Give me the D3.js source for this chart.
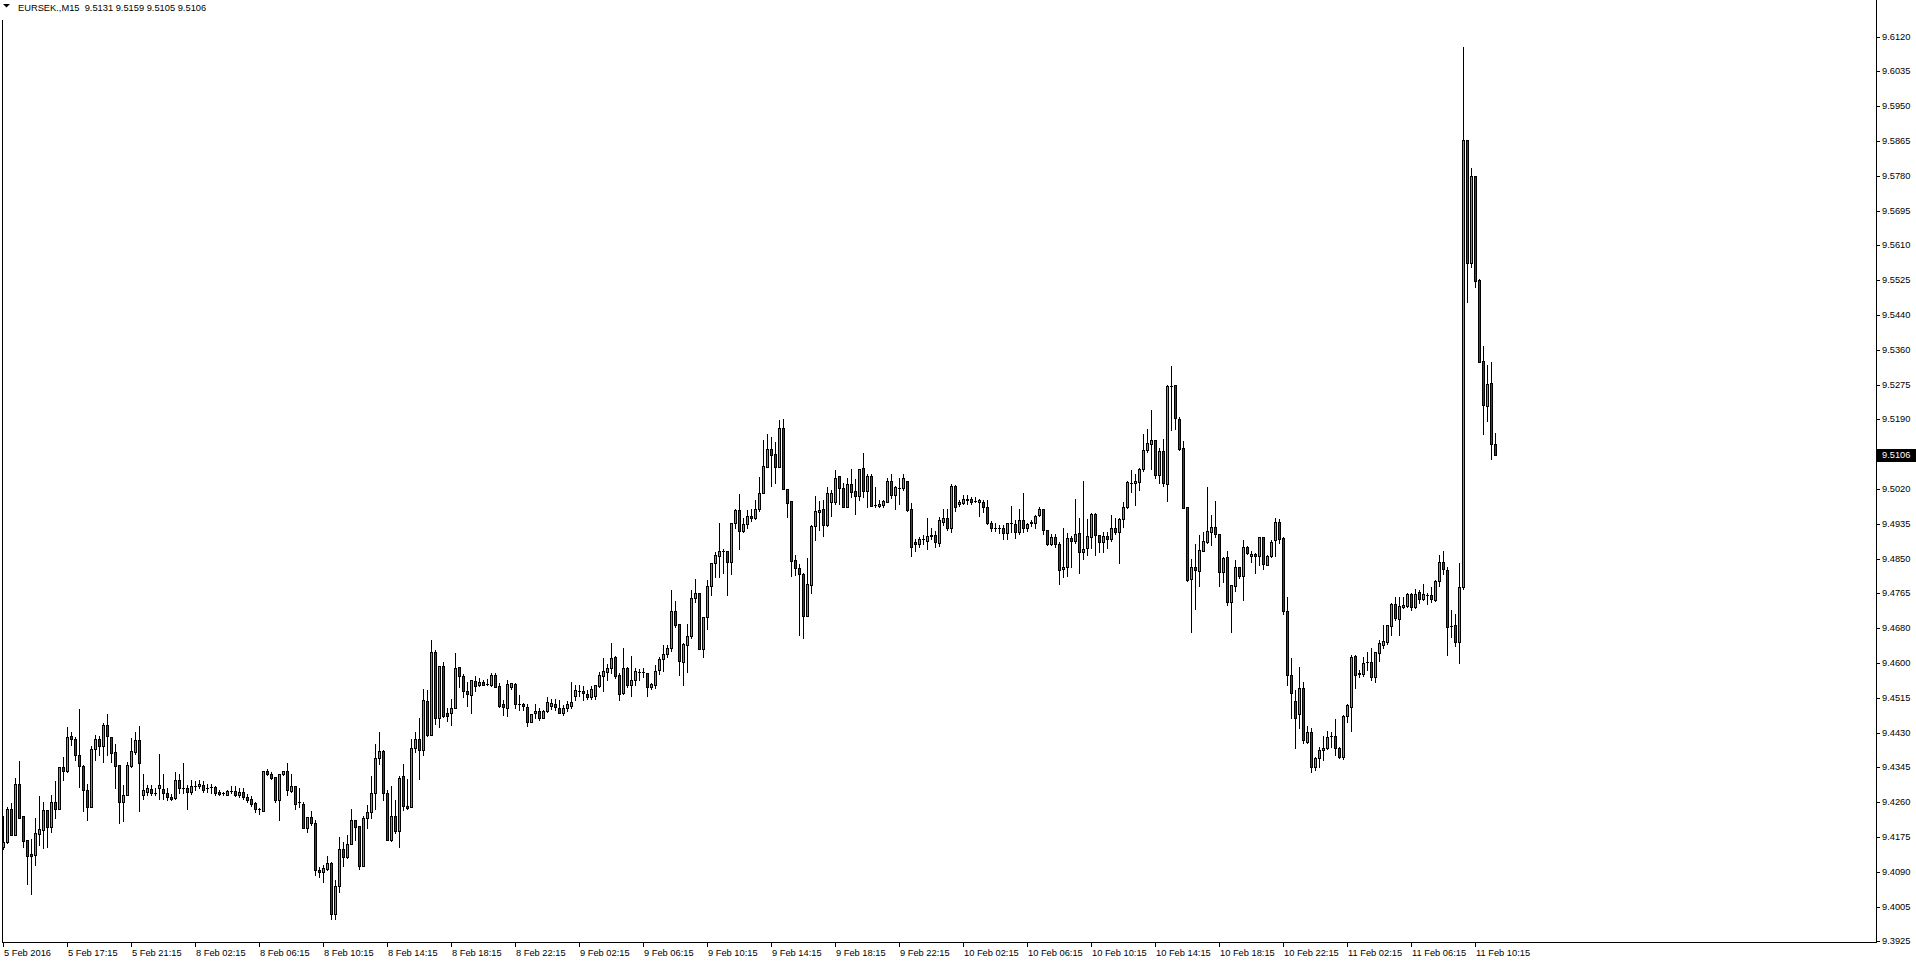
<!DOCTYPE html>
<html><head><meta charset="utf-8">
<script src="https://cdn.jsdelivr.net/npm/d3@7"></script>
<style>html,body{margin:0;padding:0;background:#fff;overflow:hidden}svg{display:block}</style>
</head><body>
<script>
const symbolTitle = "EURSEK.,M15";
const headerValues = ["9.5131", "9.5159", "9.5105", "9.5106"];
const lastPrice = 9.5106;

const openP = [
9.4155,9.4165,9.4246,9.4182,9.4307,9.4229,9.4171,9.4136,9.4135,9.4186,
9.4196,9.4244,9.4203,9.4263,9.4245,9.4348,9.4339,9.4422,9.4416,9.4377,
9.4351,9.4292,9.4252,9.4391,9.4416,9.4398,9.4450,9.4420,9.4384,9.4353,
9.4262,9.4279,9.4351,9.4384,9.4414,9.4279,9.4288,9.4294,9.4286,9.4296,
9.4294,9.4285,9.4275,9.4272,9.4316,9.4296,9.4296,9.4288,9.4303,9.4301,
9.4305,9.4297,9.4299,9.4299,9.4287,9.4284,9.4279,9.4289,9.4290,9.4279,
9.4287,9.4275,9.4271,9.4260,9.4245,9.4241,9.4339,9.4330,9.4323,9.4269,
9.4330,9.4338,9.4289,9.4302,9.4263,9.4258,9.4199,9.4226,9.4212,9.4098,
9.4092,9.4101,9.4114,9.3992,9.4059,9.4150,9.4130,9.4160,9.4220,9.4204,
9.4108,9.4225,9.4238,9.4286,9.4369,9.4386,9.4284,9.4170,9.4229,9.4193,
9.4325,9.4254,9.4250,9.4393,9.4417,9.4390,9.4508,9.4425,9.4628,9.4468,
9.4592,9.4478,9.4478,9.4490,9.4590,9.4569,9.4532,9.4523,9.4556,9.4547,
9.4554,9.4549,9.4547,9.4571,9.4544,9.4501,9.4492,9.4543,9.4549,9.4501,
9.4501,9.4493,9.4458,9.4479,9.4483,9.4467,9.4483,9.4497,9.4500,9.4492,
9.4480,9.4490,9.4495,9.4520,9.4532,9.4532,9.4526,9.4517,9.4520,9.4544,
9.4569,9.4579,9.4587,9.4615,9.4570,9.4528,9.4587,9.4547,9.4559,9.4578,
9.4578,9.4577,9.4541,9.4548,9.4583,9.4609,9.4621,9.4636,9.4726,9.4695,
9.4602,9.4645,9.4666,9.4757,9.4770,9.4635,9.4711,9.4786,9.4842,9.4861,
9.4871,9.4871,9.4846,9.4941,9.4971,9.4921,9.4937,9.4958,9.4953,9.4975,
9.5012,9.5076,9.5119,9.5107,9.5076,9.5170,9.5023,9.4993,9.4850,9.4830,
9.4816,9.4715,9.4790,9.4933,9.4967,9.4974,9.4935,9.4991,9.4991,9.5053,
9.5026,9.4978,9.5034,9.5017,9.5006,9.5073,9.5018,9.5054,9.4983,9.4982,
9.4983,9.4991,9.5043,9.5009,9.5024,9.5024,9.5043,9.4975,9.4893,9.4890,
9.4901,9.4897,9.4908,9.4910,9.4892,9.4943,9.4951,9.4928,9.5029,9.4985,
9.4989,9.4997,9.4999,9.4994,9.4991,9.4991,9.4978,9.4940,9.4929,9.4929,
9.4927,9.4916,9.4939,9.4937,9.4919,9.4947,9.4927,9.4939,9.4940,9.4960,
9.4975,9.4922,9.4889,9.4907,9.4890,9.4829,9.4833,9.4904,9.4897,9.4915,
9.4869,9.4879,9.4907,9.4962,9.4910,9.4893,9.4909,9.4901,9.4927,9.4918,
9.4949,9.4978,9.5038,9.5037,9.5039,9.5070,9.5116,9.5131,9.5141,9.5057,
9.5115,9.5034,9.5273,9.5275,9.5192,9.5121,9.4979,9.4803,9.4833,9.4824,
9.4873,9.4895,9.4919,9.4930,9.4913,9.4822,9.4858,9.4749,9.4787,9.4833,
9.4812,9.4881,9.4861,9.4865,9.4859,9.4907,9.4838,9.4860,9.4898,9.4942,
9.4903,9.4727,9.4571,9.4508,9.4476,9.4539,9.4408,9.4432,9.4347,9.4369,
9.4388,9.4393,9.4422,9.4422,9.4393,9.4373,9.4472,9.4494,9.4617,9.4577,
9.4574,9.4602,9.4602,9.4567,9.4625,9.4644,9.4652,9.4691,9.4743,9.4706,
9.4736,9.4739,9.4767,9.4737,9.4772,9.4756,9.4765,9.4765,9.4753,9.4799,
9.4846,9.4827,9.4690,9.4692,9.4651,9.4785,9.5870,9.5572,9.5781,9.5530,
9.5334,9.5225,9.5279,9.5131];

const highP = [
9.4228,9.4252,9.4260,9.4321,9.4363,9.4229,9.4171,9.4174,9.4224,9.4278,
9.4264,9.4244,9.4280,9.4314,9.4348,9.4373,9.4445,9.4432,9.4421,9.4489,
9.4353,9.4306,9.4398,9.4426,9.4422,9.4454,9.4477,9.4420,9.4403,9.4353,
9.4305,9.4361,9.4418,9.4432,9.4448,9.4331,9.4305,9.4305,9.4296,9.4379,
9.4330,9.4296,9.4282,9.4335,9.4331,9.4357,9.4305,9.4317,9.4313,9.4317,
9.4313,9.4306,9.4306,9.4301,9.4292,9.4288,9.4292,9.4301,9.4302,9.4296,
9.4296,9.4282,9.4278,9.4264,9.4248,9.4339,9.4343,9.4335,9.4323,9.4330,
9.4339,9.4358,9.4331,9.4302,9.4296,9.4262,9.4226,9.4240,9.4219,9.4106,
9.4110,9.4133,9.4118,9.4073,9.4178,9.4166,9.4182,9.4245,9.4220,9.4204,
9.4229,9.4256,9.4326,9.4404,9.4432,9.4389,9.4292,9.4301,9.4267,9.4326,
9.4356,9.4318,9.4415,9.4433,9.4466,9.4538,9.4535,9.4657,9.4632,9.4593,
9.4602,9.4490,9.4514,9.4625,9.4591,9.4574,9.4555,9.4559,9.4569,9.4565,
9.4559,9.4561,9.4575,9.4575,9.4551,9.4510,9.4559,9.4552,9.4552,9.4522,
9.4504,9.4502,9.4476,9.4502,9.4490,9.4486,9.4518,9.4512,9.4512,9.4510,
9.4498,9.4508,9.4555,9.4547,9.4546,9.4544,9.4534,9.4544,9.4547,9.4579,
9.4612,9.4599,9.4649,9.4617,9.4575,9.4636,9.4591,9.4617,9.4587,9.4585,
9.4589,9.4577,9.4552,9.4595,9.4615,9.4645,9.4644,9.4777,9.4750,9.4696,
9.4648,9.4696,9.4777,9.4805,9.4770,9.4713,9.4801,9.4843,9.4870,9.4939,
9.4876,9.4871,9.4941,9.4975,9.5010,9.4951,9.4971,9.4973,9.4996,9.5052,
9.5141,9.5156,9.5148,9.5137,9.5190,9.5192,9.5023,9.4993,9.4862,9.4840,
9.4818,9.4856,9.4935,9.5005,9.4993,9.4995,9.5028,9.5021,9.5068,9.5053,
9.5037,9.5048,9.5071,9.5046,9.5070,9.5111,9.5058,9.5058,9.5028,9.4995,
9.4997,9.5048,9.5058,9.5030,9.5050,9.5058,9.5043,9.4989,9.4902,9.4906,
9.4910,9.4951,9.4927,9.4920,9.4955,9.4975,9.4975,9.5034,9.5033,9.4997,
9.5008,9.5008,9.5003,9.5003,9.4998,9.4995,9.4995,9.4945,9.4939,9.4935,
9.4935,9.4939,9.4981,9.4948,9.4975,9.5014,9.4939,9.4947,9.4959,9.4979,
9.4975,9.4924,9.4914,9.4913,9.4894,9.4927,9.4915,9.4909,9.4999,9.4952,
9.5042,9.4949,9.4965,9.4964,9.4911,9.4919,9.4918,9.4960,9.4952,9.4953,
9.4992,9.5042,9.5069,9.5060,9.5074,9.5156,9.5168,9.5215,9.5142,9.5121,
9.5144,9.5275,9.5320,9.5275,9.5196,9.5139,9.4979,9.4853,9.4889,9.4911,
9.4919,9.5027,9.4960,9.4993,9.4913,9.4858,9.4871,9.4790,9.4850,9.4833,
9.4899,9.4883,9.4871,9.4867,9.4907,9.4907,9.4862,9.4899,9.4952,9.4950,
9.4905,9.4761,9.4613,9.4535,9.4591,9.4553,9.4447,9.4442,9.4373,9.4397,
9.4423,9.4436,9.4434,9.4464,9.4397,9.4474,9.4501,9.4620,9.4620,9.4583,
9.4616,9.4628,9.4636,9.4628,9.4655,9.4693,9.4693,9.4745,9.4761,9.4761,
9.4761,9.4769,9.4769,9.4779,9.4778,9.4792,9.4769,9.4784,9.4802,9.4863,
9.4873,9.4834,9.4730,9.4720,9.4844,9.6096,9.5870,9.5801,9.5781,9.5533,
9.5369,9.5324,9.5331,9.5159];

const lowP = [
9.4149,9.4163,9.4182,9.4182,9.4225,9.4155,9.4064,9.4040,9.4110,9.4159,
9.4151,9.4153,9.4191,9.4224,9.4245,9.4317,9.4335,9.4402,9.4365,9.4300,
9.4241,9.4220,9.4252,9.4365,9.4377,9.4361,9.4377,9.4361,9.4298,9.4211,
9.4217,9.4279,9.4349,9.4379,9.4242,9.4271,9.4280,9.4279,9.4280,9.4271,
9.4271,9.4268,9.4268,9.4271,9.4284,9.4284,9.4247,9.4282,9.4292,9.4298,
9.4288,9.4288,9.4286,9.4280,9.4279,9.4279,9.4279,9.4284,9.4277,9.4275,
9.4271,9.4263,9.4254,9.4238,9.4233,9.4240,9.4329,9.4319,9.4263,9.4220,
9.4329,9.4280,9.4288,9.4247,9.4251,9.4199,9.4190,9.4206,9.4086,9.4082,
9.4068,9.4098,9.3978,9.3978,9.4045,9.4108,9.4126,9.4160,9.4172,9.4100,
9.4108,9.4201,9.4225,9.4247,9.4356,9.4267,9.4172,9.4169,9.4188,9.4154,
9.4243,9.4247,9.4250,9.4385,9.4320,9.4378,9.4423,9.4425,9.4452,9.4445,
9.4470,9.4460,9.4451,9.4490,9.4543,9.4517,9.4497,9.4480,9.4533,9.4544,
9.4547,9.4547,9.4544,9.4541,9.4494,9.4474,9.4472,9.4536,9.4492,9.4486,
9.4486,9.4448,9.4456,9.4468,9.4463,9.4466,9.4482,9.4489,9.4486,9.4478,
9.4475,9.4485,9.4490,9.4510,9.4520,9.4510,9.4514,9.4513,9.4512,9.4541,
9.4533,9.4559,9.4575,9.4563,9.4510,9.4525,9.4541,9.4520,9.4547,9.4559,
9.4567,9.4520,9.4538,9.4539,9.4573,9.4581,9.4615,9.4630,9.4688,9.4571,
9.4547,9.4579,9.4662,9.4749,9.4635,9.4615,9.4684,9.4765,9.4809,9.4809,
9.4818,9.4765,9.4816,9.4929,9.4877,9.4917,9.4929,9.4945,9.4949,9.4970,
9.5012,9.5075,9.5030,9.5038,9.5076,9.5023,9.4955,9.4812,9.4814,9.4668,
9.4661,9.4715,9.4771,9.4898,9.4923,9.4908,9.4932,9.4957,9.4986,9.4986,
9.4978,9.4978,9.5002,9.4963,9.4997,9.5002,9.4979,9.4981,9.4979,9.4979,
9.4979,9.4991,9.5000,9.4975,9.4987,9.5021,9.4970,9.4860,9.4872,9.4882,
9.4890,9.4876,9.4902,9.4882,9.4884,9.4936,9.4924,9.4919,9.4969,9.4982,
9.4987,9.4985,9.4985,9.4990,9.4957,9.4967,9.4937,9.4921,9.4921,9.4916,
9.4901,9.4901,9.4917,9.4904,9.4913,9.4919,9.4921,9.4932,9.4928,9.4957,
9.4914,9.4886,9.4886,9.4882,9.4792,9.4808,9.4812,9.4834,9.4891,9.4818,
9.4853,9.4863,9.4880,9.4863,9.4869,9.4869,9.4879,9.4897,9.4913,9.4842,
9.4931,9.4976,9.5016,9.4984,9.5019,9.5067,9.5113,9.5071,9.5049,9.5038,
9.5030,9.4994,9.5166,9.5168,9.5116,9.4976,9.4799,9.4675,9.4731,9.4786,
9.4873,9.4891,9.4887,9.4907,9.4787,9.4798,9.4740,9.4675,9.4774,9.4806,
9.4752,9.4865,9.4846,9.4818,9.4838,9.4829,9.4837,9.4858,9.4861,9.4891,
9.4719,9.4547,9.4468,9.4393,9.4442,9.4405,9.4405,9.4335,9.4341,9.4347,
9.4365,9.4391,9.4397,9.4377,9.4369,9.4367,9.4458,9.4436,9.4539,9.4566,
9.4569,9.4583,9.4559,9.4555,9.4606,9.4636,9.4647,9.4668,9.4705,9.4668,
9.4733,9.4737,9.4729,9.4733,9.4747,9.4753,9.4743,9.4749,9.4751,9.4787,
9.4816,9.4619,9.4663,9.4641,9.4601,9.4781,9.5477,9.5562,9.5513,9.5331,
9.5155,9.5187,9.5096,9.5105];

const closeP = [
9.4167,9.4246,9.4182,9.4307,9.4225,9.4169,9.4131,9.4133,9.4188,9.4198,
9.4244,9.4203,9.4263,9.4246,9.4348,9.4339,9.4420,9.4415,9.4377,9.4351,
9.4293,9.4252,9.4392,9.4416,9.4398,9.4450,9.4422,9.4383,9.4351,9.4262,
9.4280,9.4353,9.4387,9.4414,9.4357,9.4292,9.4296,9.4285,9.4284,9.4305,
9.4284,9.4274,9.4271,9.4316,9.4296,9.4296,9.4288,9.4302,9.4303,9.4306,
9.4293,9.4297,9.4299,9.4284,9.4282,9.4284,9.4289,9.4289,9.4279,9.4288,
9.4275,9.4267,9.4259,9.4245,9.4245,9.4338,9.4330,9.4322,9.4269,9.4330,
9.4338,9.4291,9.4302,9.4259,9.4263,9.4199,9.4226,9.4211,9.4097,9.4092,
9.4102,9.4114,9.3992,9.4059,9.4150,9.4130,9.4162,9.4220,9.4203,9.4108,
9.4223,9.4238,9.4286,9.4369,9.4386,9.4284,9.4172,9.4229,9.4192,9.4322,
9.4254,9.4249,9.4393,9.4417,9.4389,9.4510,9.4425,9.4628,9.4468,9.4592,
9.4472,9.4472,9.4490,9.4587,9.4569,9.4533,9.4524,9.4558,9.4545,9.4554,
9.4548,9.4549,9.4571,9.4543,9.4496,9.4494,9.4549,9.4551,9.4500,9.4501,
9.4497,9.4458,9.4476,9.4483,9.4466,9.4483,9.4505,9.4503,9.4494,9.4480,
9.4492,9.4502,9.4505,9.4534,9.4532,9.4528,9.4517,9.4538,9.4547,9.4570,
9.4582,9.4587,9.4613,9.4569,9.4526,9.4587,9.4547,9.4559,9.4580,9.4578,
9.4578,9.4541,9.4549,9.4582,9.4611,9.4621,9.4636,9.4726,9.4692,9.4606,
9.4646,9.4667,9.4759,9.4770,9.4635,9.4713,9.4786,9.4842,9.4862,9.4872,
9.4871,9.4846,9.4941,9.4971,9.4921,9.4937,9.4958,9.4953,9.4975,9.5012,
9.5078,9.5119,9.5106,9.5076,9.5170,9.5023,9.4989,9.4848,9.4832,9.4816,
9.4715,9.4792,9.4932,9.4969,9.4971,9.4936,9.5014,9.5014,9.5050,9.5026,
9.4978,9.5034,9.5016,9.5006,9.5070,9.5018,9.5054,9.4982,9.4983,9.4985,
9.4993,9.5043,9.5009,9.5027,9.5026,9.5048,9.4971,9.4882,9.4888,9.4901,
9.4901,9.4908,9.4912,9.4893,9.4948,9.4951,9.4927,9.5029,9.4979,9.4991,
9.4999,9.4999,9.4991,9.4994,9.4997,9.4979,9.4940,9.4927,9.4929,9.4929,
9.4916,9.4939,9.4939,9.4919,9.4947,9.4928,9.4937,9.4942,9.4958,9.4975,
9.4922,9.4888,9.4906,9.4889,9.4827,9.4833,9.4903,9.4897,9.4913,9.4869,
9.4876,9.4909,9.4962,9.4910,9.4893,9.4909,9.4901,9.4927,9.4917,9.4950,
9.4978,9.5039,9.5038,9.5041,9.5071,9.5117,9.5134,9.5141,9.5057,9.5115,
9.5037,9.5273,9.5273,9.5194,9.5120,9.4977,9.4802,9.4833,9.4825,9.4875,
9.4897,9.4921,9.4930,9.4913,9.4822,9.4856,9.4749,9.4790,9.4833,9.4812,
9.4881,9.4867,9.4865,9.4859,9.4907,9.4840,9.4860,9.4895,9.4942,9.4901,
9.4727,9.4570,9.4527,9.4468,9.4539,9.4414,9.4432,9.4349,9.4369,9.4389,
9.4393,9.4420,9.4422,9.4393,9.4371,9.4472,9.4498,9.4616,9.4570,9.4574,
9.4600,9.4602,9.4567,9.4626,9.4648,9.4654,9.4693,9.4743,9.4709,9.4739,
9.4741,9.4767,9.4737,9.4768,9.4755,9.4768,9.4765,9.4755,9.4799,9.4846,
9.4828,9.4688,9.4690,9.4651,9.4785,9.5870,9.5570,9.5781,9.5528,9.5331,
9.5227,9.5277,9.5131,9.5106];

const timeLabels = ["5 Feb 2016","5 Feb 17:15","5 Feb 21:15","8 Feb 02:15","8 Feb 06:15","8 Feb 10:15",
"8 Feb 14:15","8 Feb 18:15","8 Feb 22:15","9 Feb 02:15","9 Feb 06:15","9 Feb 10:15","9 Feb 14:15",
"9 Feb 18:15","9 Feb 22:15","10 Feb 02:15","10 Feb 06:15","10 Feb 10:15","10 Feb 14:15","10 Feb 18:15",
"10 Feb 22:15","11 Feb 02:15","11 Feb 06:15","11 Feb 10:15"];
const barsPerLabel = 16;

const priceLabels = ["9.6120","9.6035","9.5950","9.5865","9.5780","9.5695","9.5610","9.5525","9.5440",
"9.5360","9.5275","9.5190","9.5105","9.5020","9.4935","9.4850","9.4765","9.4680","9.4600","9.4515",
"9.4430","9.4345","9.4260","9.4175","9.4090","9.4005","9.3925"];

const W = 1916, H = 964;
const bullColor = "#32c832", bearColor = "#dc0000";
const FONT = "'Liberation Sans', Arial, sans-serif";

const svg = d3.select("body").append("svg")
  .attr("width", W).attr("height", H)
  .style("font-family", FONT).style("font-size", "9.3px");
svg.append("rect").attr("width", W).attr("height", H).attr("fill", "#fff");

const N = openP.length;
const x = d3.scaleLinear().domain([0, N - 1]).range([3, 3 + 4 * (N - 1)]);
const pTop = +priceLabels[0], pBot = +priceLabels[priceLabels.length - 1];
const y = d3.scaleLinear().domain([pBot, pTop]).range([941.3, 36.7]);

const axisX = 1876, bottomY = 942;
const frame = svg.append("g").attr("shape-rendering", "crispEdges");
frame.append("rect").attr("x", 2).attr("y", 20).attr("width", 1).attr("height", bottomY - 20 + 1).attr("fill", "#000");
frame.append("rect").attr("x", 2).attr("y", bottomY).attr("width", axisX - 2 + 1).attr("height", 1).attr("fill", "#000");
frame.append("rect").attr("x", axisX).attr("y", 0).attr("width", 1).attr("height", bottomY + 1).attr("fill", "#000");

// candles
const bars = d3.range(N).map(i => ({i, o: openP[i], h: highP[i], l: lowP[i], c: closeP[i]}));
const g = svg.append("g").attr("shape-rendering", "crispEdges");
const cg = g.selectAll("g.c").data(bars).join("g").attr("class", "c");
cg.each(function(d) {
  const s = d3.select(this);
  const cx = Math.round(x(d.i));
  const yo = Math.round(y(d.o)), yc = Math.round(y(d.c));
  const bt = Math.min(yo, yc), bb = Math.max(yo, yc);
  const yh = Math.min(Math.round(y(d.h)), bt), yl = Math.max(Math.round(y(d.l)), bb);
  s.append("rect").attr("x", cx).attr("y", yh).attr("width", 1).attr("height", yl - yh + 1).attr("fill", "#000");
  s.append("rect").attr("x", cx - 1).attr("y", bt).attr("width", 3).attr("height", bb - bt + 1).attr("fill", "#000");
  if (bb - bt >= 2 && d.c !== d.o) {
    s.append("rect").attr("x", cx).attr("y", bt + 1).attr("width", 1).attr("height", bb - bt - 1)
      .attr("fill", d.c > d.o ? bullColor : bearColor);
  }
});

// price axis
const nT = priceLabels.length;
const yAxisG = svg.append("g");
priceLabels.forEach((lab, k) => {
  const v = pTop - k * (pTop - pBot) / (nT - 1);
  const ty = Math.round(y(v));
  yAxisG.append("rect").attr("x", axisX + 1).attr("y", ty).attr("width", 3).attr("height", 1)
    .attr("fill", "#000").attr("shape-rendering", "crispEdges");
  yAxisG.append("text").attr("x", 1882).attr("y", ty + 3.3).attr("fill", "#000").text(lab);
});

// current price box
const py = Math.round(y(lastPrice));
svg.append("rect").attr("x", axisX + 1).attr("y", py - 6).attr("width", W - axisX - 1).attr("height", 13)
  .attr("fill", "#000").attr("shape-rendering", "crispEdges");
svg.append("text").attr("x", 1882).attr("y", py + 3.3).attr("fill", "#fff").text(lastPrice.toFixed(4));

// time axis
const xAxisG = svg.append("g");
timeLabels.forEach((lab, k) => {
  const tx = Math.round(x(k * barsPerLabel));
  xAxisG.append("rect").attr("x", tx).attr("y", bottomY + 1).attr("width", 1).attr("height", 4)
    .attr("fill", "#000").attr("shape-rendering", "crispEdges");
  xAxisG.append("text").attr("x", tx + 1).attr("y", 956).attr("fill", "#000").text(lab);
});

// header
svg.append("path").attr("d", "M3,4 L10,4 L6.5,7.5 Z").attr("fill", "#000");
svg.append("text").attr("x", 18).attr("y", 10.5).attr("fill", "#000")
  .attr("xml:space", "preserve").style("white-space", "pre")
  .text(symbolTitle + "  " + headerValues.join(" "));
</script>
</body></html>
